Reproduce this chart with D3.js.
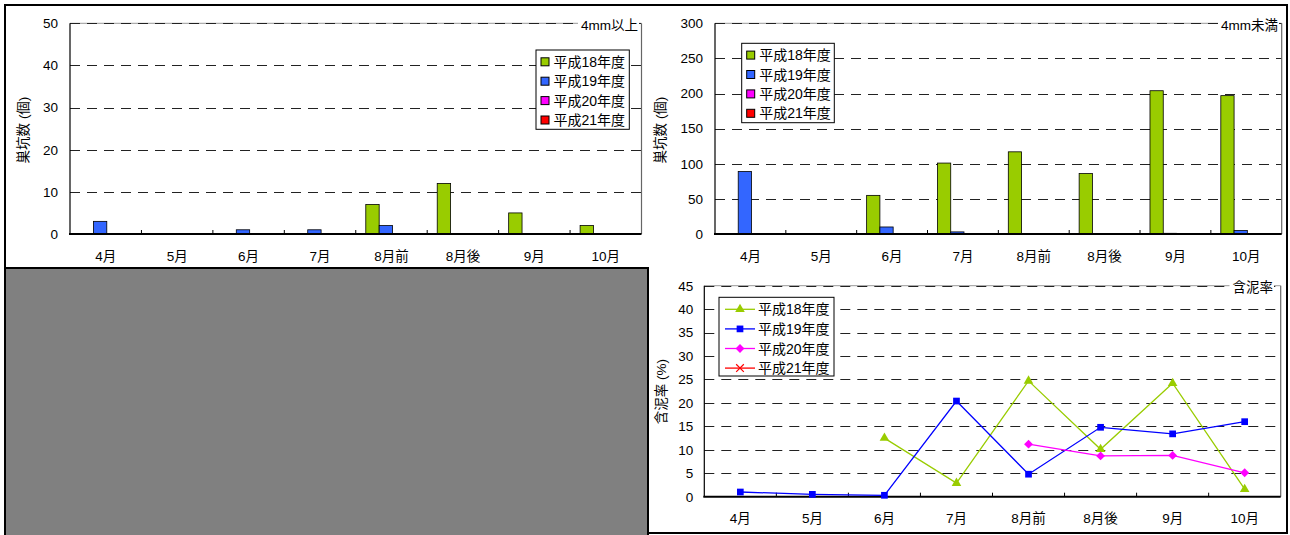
<!DOCTYPE html>
<html>
<head>
<meta charset="utf-8">
<script src="https://cdn.jsdelivr.net/npm/d3@7"></script>
<style>
  body { margin: 0; background: #fff; }
  svg { display: block; }
  text { font-family: "Liberation Sans", Arial, "Noto Sans CJK JP", sans-serif; fill: #000; }
</style>
</head>
<body>
<svg id="chart" width="1290" height="535"></svg>
<script>
// ---- data ----
const months = ["4月", "5月", "6月", "7月", "8月前", "8月後", "9月", "10月"];
const seriesNames = ["平成18年度", "平成19年度", "平成20年度", "平成21年度"];

// 巣坑数 4mm以上 (個)
const large18 = [null, null, null, null, 7, 12, 5, 2];
const large19 = [3, null, 1, 1, 2, null, null, null];
const large20 = [null, null, null, null, null, null, null, null];
const large21 = [null, null, null, null, null, null, null, null];

// 巣坑数 4mm未満 (個)
const small18 = [null, null, 55, 101, 117, 86, 204, 197];
const small19 = [89, null, 10, 3, null, null, 1, 5];
const small20 = [null, null, null, null, null, null, null, null];
const small21 = [null, null, null, null, null, null, null, null];

// 含泥率 (%)
const mud18 = [null, null, 12.5, 2.9, 24.7, 10.1, 24.2, 1.6];
const mud19 = [1.0, 0.5, 0.3, 20.4, 4.8, 14.8, 13.4, 16.0];
const mud20 = [null, null, null, null, 11.2, 8.7, 8.8, 5.1];
const mud21 = [null, null, null, null, null, null, null, null];

// axis ticks
const largeTicks = [0, 10, 20, 30, 40, 50];
const smallTicks = [0, 50, 100, 150, 200, 250, 300];
const mudTicks = [0, 5, 10, 15, 20, 25, 30, 35, 40, 45];

const barColors = ["#99cc00", "#3366ff", "#ff00ff", "#ff0000"];
const lineColors = ["#99cc00", "#0000ff", "#ff00ff", "#ff0000"];
const markerShapes = [d3.symbolTriangle, d3.symbolSquare, d3.symbolDiamond2, d3.symbolX];
const markerSizes = [40, 45, 50, 40];

const FS = 13.5;
const svg = d3.select("#chart");

// ---- outer frame and empty grey panel ----
svg.append("path")
  .attr("d", "M5,268 V5 H1287 V533 H648")
  .attr("fill", "none").attr("stroke", "#000").attr("stroke-width", 2);
svg.append("rect")
  .attr("x", 5).attr("y", 268).attr("width", 643).attr("height", 268)
  .attr("fill", "#808080").attr("stroke", "#000").attr("stroke-width", 2);

// shared pieces of a chart panel
function frame(o, y) {
  const g = svg.append("g");
  // solid light top edge under the dashed top gridline
  g.append("line").attr("x1", o.x0).attr("x2", o.x1).attr("y1", o.y0).attr("y2", o.y0)
    .attr("stroke", "#999").attr("stroke-width", 1);
  // dashed gridlines
  g.selectAll("line.grid").data(o.ticks.filter(t => t > 0)).join("line")
    .attr("class", "grid")
    .attr("x1", o.x0).attr("x2", o.x1)
    .attr("y1", d => Math.round(y(d)) + 0.5).attr("y2", d => Math.round(y(d)) + 0.5)
    .attr("stroke", "#222").attr("stroke-width", 1).attr("stroke-dasharray", "10,7");
  // right border of plot
  g.append("line").attr("x1", o.x1).attr("x2", o.x1).attr("y1", o.y0).attr("y2", o.y1)
    .attr("stroke", "#666").attr("stroke-width", 1.2);
  return g;
}

function axes(o, x, y) {
  // y axis labels
  const ya = svg.append("g").attr("transform", `translate(${o.x0},0)`)
    .call(d3.axisLeft(y).tickValues(o.ticks).tickSize(0).tickPadding(o.yPad));
  ya.select(".domain").remove();
  ya.selectAll("text").style("font-size", FS + "px").style("font-family", null);
  // y axis line
  svg.append("line").attr("x1", o.x0).attr("x2", o.x0).attr("y1", o.y0).attr("y2", o.y1)
    .attr("stroke", "#000").attr("stroke-width", 1.2);
  // x axis labels
  const xa = svg.append("g").attr("transform", `translate(0,${o.y1})`)
    .call(d3.axisBottom(x).tickSize(0).tickPadding(o.xPad));
  xa.select(".domain").remove();
  xa.selectAll("text").style("font-size", FS + "px").style("font-family", null);
  // x axis line and inward tick marks at category boundaries
  svg.append("line").attr("x1", o.x0 - 1).attr("x2", o.x1).attr("y1", o.y1).attr("y2", o.y1)
    .attr("stroke", "#000").attr("stroke-width", 2);
  svg.selectAll(null).data(months.slice(1)).join("line")
    .attr("x1", d => x(d)).attr("x2", d => x(d))
    .attr("y1", o.y1).attr("y2", o.y1 - 4)
    .attr("stroke", "#000").attr("stroke-width", 1);
  // y axis title
  svg.append("text")
    .attr("transform", `translate(${o.titleX},${o.titleY}) rotate(-90)`)
    .attr("text-anchor", "middle").attr("dominant-baseline", "central")
    .style("font-size", FS + "px")
    .text(o.yTitle);
  // corner caption with white backing
  const cap = svg.append("g");
  const t = cap.append("text").attr("x", o.capX).attr("y", o.capY)
    .attr("text-anchor", "end").style("font-size", FS + "px").text(o.caption);
  const bb = t.node().getBBox();
  cap.insert("rect", "text").attr("x", bb.x - 3).attr("y", bb.y).attr("width", bb.width + 4)
    .attr("height", bb.height).attr("fill", "#fff");
}

function barChart(o) {
  const x = d3.scaleBand().domain(months).range([o.x0, o.x1]);
  const xs = d3.scaleBand().domain(seriesNames).range([0, x.bandwidth()])
    .paddingOuter(0.67).align(0.56);
  const y = d3.scaleLinear().domain([0, d3.max(o.ticks)]).range([o.y1, o.y0]);
  frame(o, y);
  o.series.forEach((vals, si) => {
    svg.append("g").selectAll("rect")
      .data(vals.map((v, i) => ({ m: months[i], v })).filter(d => d.v != null))
      .join("rect")
      .attr("x", d => x(d.m) + xs(seriesNames[si]))
      .attr("y", d => y(d.v))
      .attr("width", xs.bandwidth())
      .attr("height", d => y(0) - y(d.v))
      .attr("fill", barColors[si]).attr("stroke", "#000").attr("stroke-width", 0.8);
  });
  axes(o, x, y);
  // legend
  const lg = svg.append("g");
  lg.append("rect").attr("x", o.lx).attr("y", o.ly).attr("width", o.lw).attr("height", o.lh)
    .attr("fill", "#fff").attr("stroke", "#000").attr("stroke-width", 1);
  seriesNames.forEach((s, i) => {
    const cy = o.ly + 11.8 + i * 19.4;
    lg.append("rect").attr("x", o.lx + 5).attr("y", cy - 4).attr("width", 8).attr("height", 8)
      .attr("fill", barColors[i]).attr("stroke", "#000").attr("stroke-width", 1);
    lg.append("text").attr("x", o.lx + 17.5).attr("y", cy).attr("dominant-baseline", "central")
      .style("font-size", "14px").text(s);
  });
}

function marker(sel, i) {
  const cross = i === 3;
  sel.attr("d", d3.symbol(markerShapes[i], markerSizes[i]))
    .attr("fill", cross ? "none" : lineColors[i])
    .attr("stroke", cross ? lineColors[i] : "none")
    .attr("stroke-width", 1.2);
}

function lineChart(o) {
  const x = d3.scaleBand().domain(months).range([o.x0, o.x1]);
  const y = d3.scaleLinear().domain([0, d3.max(o.ticks)]).range([o.y1, o.y0]);
  frame(o, y);
  const cx = m => x(m) + x.bandwidth() / 2;
  axes(o, x, y);
  o.series.forEach((vals, si) => {
    const pts = vals.map((v, i) => ({ m: months[i], v }));
    svg.append("path")
      .datum(pts)
      .attr("d", d3.line().defined(d => d.v != null).x(d => cx(d.m)).y(d => y(d.v)))
      .attr("fill", "none").attr("stroke", lineColors[si]).attr("stroke-width", 1.3);
    svg.append("g").selectAll("path")
      .data(pts.filter(d => d.v != null)).join("path")
      .attr("transform", d => `translate(${cx(d.m)},${y(d.v)})`)
      .call(marker, si);
  });
  // legend
  const lg = svg.append("g");
  lg.append("rect").attr("x", o.lx).attr("y", o.ly).attr("width", o.lw).attr("height", o.lh)
    .attr("fill", "#fff").attr("stroke", "#000").attr("stroke-width", 1);
  seriesNames.forEach((s, i) => {
    const cy = o.ly + 12 + i * 19.6;
    lg.append("line").attr("x1", o.lx + 6).attr("x2", o.lx + 36).attr("y1", cy).attr("y2", cy)
      .attr("stroke", lineColors[i]).attr("stroke-width", 1.3);
    lg.append("path").attr("transform", `translate(${o.lx + 21},${cy})`).call(marker, i);
    lg.append("text").attr("x", o.lx + 39).attr("y", cy).attr("dominant-baseline", "central")
      .style("font-size", "14px").text(s);
  });
}

// 4mm以上
barChart({
  x0: 70, x1: 641.5, y0: 23.3, y1: 234, ticks: largeTicks,
  series: [large18, large19, large20, large21],
  yPad: 12, xPad: 17, yTitle: "巣坑数 (個)", titleX: 23, titleY: 130,
  caption: "4mm以上", capX: 638, capY: 29.5,
  lx: 536, ly: 50, lw: 93.3, lh: 79.3
});

// 4mm未満
barChart({
  x0: 715, x1: 1281.7, y0: 23.3, y1: 234, ticks: smallTicks,
  series: [small18, small19, small20, small21],
  yPad: 12, xPad: 17, yTitle: "巣坑数 (個)", titleX: 660, titleY: 130,
  caption: "4mm未満", capX: 1278, capY: 29.5,
  lx: 741.7, ly: 43.3, lw: 92.6, lh: 79.4
});

// 含泥率
lineChart({
  x0: 704.3, x1: 1280.7, y0: 285.7, y1: 496.7, ticks: mudTicks,
  series: [mud18, mud19, mud20, mud21],
  yPad: 11, xPad: 16.5, yTitle: "含泥率 (%)", titleX: 661.7, titleY: 391.7,
  caption: "含泥率", capX: 1273, capY: 292.3,
  lx: 719, ly: 297.3, lw: 115, lh: 78.7
});
</script>
</body>
</html>
